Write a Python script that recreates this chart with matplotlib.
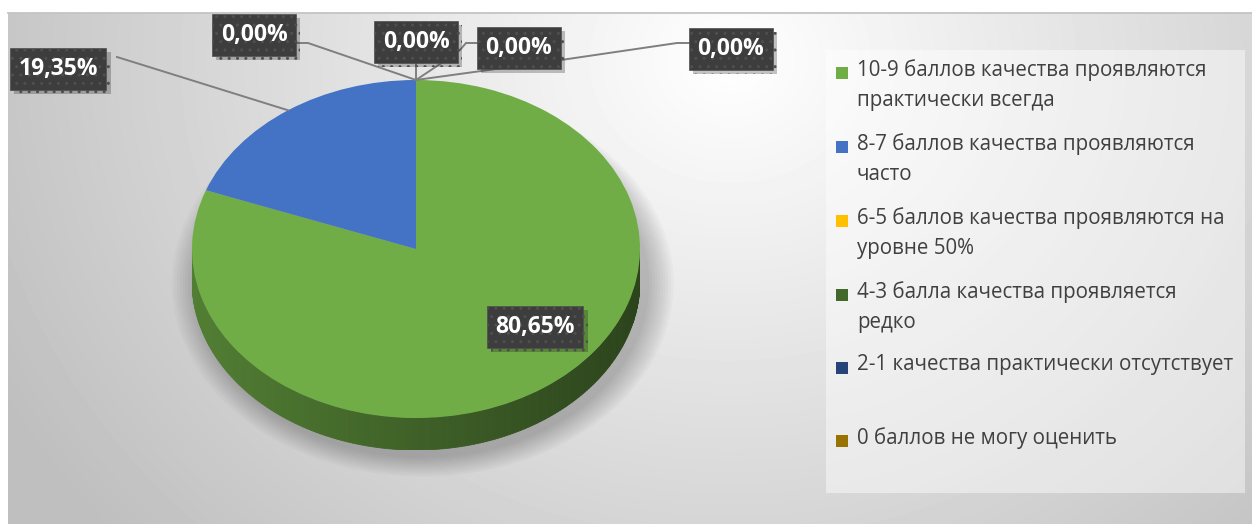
import numpy as np
import matplotlib.pyplot as plt
from matplotlib.patches import Rectangle, Polygon, Ellipse
import matplotlib.patheffects as pe

categories = [
    "10-9 баллов качества проявляются\nпрактически всегда",
    "8-7 баллов качества проявляются\nчасто",
    "6-5 баллов качества проявляются на\nуровне 50%",
    "4-3 балла качества проявляется\nредко",
    "2-1 качества практически отсутствует",
    "0 баллов не могу оценить",
]
values = [80.65, 19.35, 0.0, 0.0, 0.0, 0.0]
value_labels = ["80,65%", "19,35%", "0,00%", "0,00%", "0,00%", "0,00%"]
colors = ["#70AD47", "#4472C4", "#FFC000", "#43682B", "#264478", "#997300"]

W, H = 1252, 524
fig = plt.figure(figsize=(W / 100, H / 100), dpi=100)
fig.patch.set_facecolor("white")

# background axes in pixel coordinates
bg = fig.add_axes([0, 0, 1, 1], zorder=0)
bg.set_xlim(0, W)
bg.set_ylim(H, 0)
bg.axis("off")

yy, xx = np.mgrid[13:H, 8:W]
r = np.hypot(xx - 730, (yy - 60) * 1.15) / 720.0
grad = 1.0 - 0.22 * np.clip(r, 0, 1.15)
bg.imshow(grad, cmap="gray", vmin=0, vmax=1, extent=(8, W, H, 13),
          aspect="auto", zorder=0)
bg.plot([8, W], [13, 13], color="#c4c4c4", lw=1.3, zorder=1)

# legend panel
bg.add_patch(Rectangle((826, 50), 419, 443, facecolor="white", alpha=0.45,
                       edgecolor="none", zorder=1))

# pie axes (3D-like elliptical pie)
thick = 32 / 169.0
axp = fig.add_axes([192 / W, 1 - 450 / H, 448 / W, 370 / H], zorder=1)
axp.axis("off")
axp.patch.set_alpha(0)

# soft shadow around the pie
for k in range(10):
    s = 1.0 + 0.012 * (k + 1)
    axp.add_patch(Ellipse((0.03, -thick - 0.015), 2 * s, 2 * s * 1.02,
                          facecolor="black", alpha=0.022, lw=0, zorder=0,
                          clip_on=False))

# side band, shaded by angle
fracs = np.array(values) / sum(values)
start = 90.0
for v, c in zip(fracs, colors):
    if v <= 0:
        continue
    a1 = start - 360 * v
    th = np.radians(np.linspace(a1, start, 360))
    start = a1
    th = th[np.sin(th) <= 0.001]
    if th.size < 2:
        continue
    base = np.array(plt.matplotlib.colors.to_rgb(c))
    for t0, t1 in zip(th[:-1], th[1:]):
        f = 0.56 - 0.17 * np.cos((t0 + t1) / 2)
        quad = [(np.cos(t0), np.sin(t0)), (np.cos(t1), np.sin(t1)),
                (np.cos(t1), np.sin(t1) - thick), (np.cos(t0), np.sin(t0) - thick)]
        axp.add_patch(Polygon(quad, closed=True, facecolor=base * f,
                              edgecolor=base * f, lw=0.6, zorder=1))

wedges, _ = axp.pie(values, colors=colors, startangle=90, counterclock=False,
                    wedgeprops=dict(linewidth=0))
for w in wedges:
    w.set_zorder(2)
axp.set_aspect("auto")
axp.set_xlim(-1, 1)
axp.set_ylim(-1 - thick, 1)

# overlay axes for data labels
top = fig.add_axes([0, 0, 1, 1], zorder=2)
top.set_xlim(0, W)
top.set_ylim(H, 0)
top.axis("off")
top.patch.set_alpha(0)

fig.canvas.draw()
to_px = axp.transData + top.transData.inverted()
anchors = []
start = 90.0
for v in fracs:
    mid = start - 180 * v
    start -= 360 * v
    anchors.append(to_px.transform((np.cos(np.radians(mid)), np.sin(np.radians(mid)))))

box = dict(boxstyle="square,pad=0.38", facecolor="#3d3d3d", edgecolor="#4f4f4f",
           hatch="..", linewidth=0.5)
lab_font = dict(color="white", fontsize=16.5, fontweight="bold",
                family=["Open Sans", "DejaVu Sans"], zorder=6)

label_pos = [(535, 327), (58, 69), (254, 35), (416, 42), (519, 48), (731, 49)]
# leader polylines (from anchor towards label box)
leaders = {
    1: [(117, 57)],
    2: [(308, 43), (296, 43)],
    3: [(416, 62)],
    4: [(443, 62), (460, 50), (466, 43), (477, 43)],
    5: [(561, 60), (677, 43), (689, 43)],
}
for i, pts in leaders.items():
    ax0, ay0 = anchors[i]
    path = [(ax0, ay0)] + pts
    top.plot([p[0] for p in path], [p[1] for p in path], color="#7f7f7f",
             lw=1.4, zorder=4, solid_joinstyle="miter")

for lab, (cx, cy) in zip(value_labels, label_pos):
    t = top.text(cx, cy, lab, ha="center", va="center", bbox=box, **lab_font)
    t.get_bbox_patch().set_path_effects(
        [pe.SimplePatchShadow(offset=(3, -3), alpha=0.25), pe.Normal()])

# legend
leg_y = [73, 147, 221, 295, 368, 441]
for lab, col, y in zip(categories, colors, leg_y):
    bg.add_patch(Rectangle((836, y - 6), 12, 12, facecolor=col, edgecolor="none", zorder=5))
    bg.text(857, y - 14, lab, ha="left", va="top", color="#404040", fontsize=14.8,
            family=["Open Sans", "DejaVu Sans"], linespacing=1.6, zorder=5)

fig.savefig("out.png", dpi=100)
